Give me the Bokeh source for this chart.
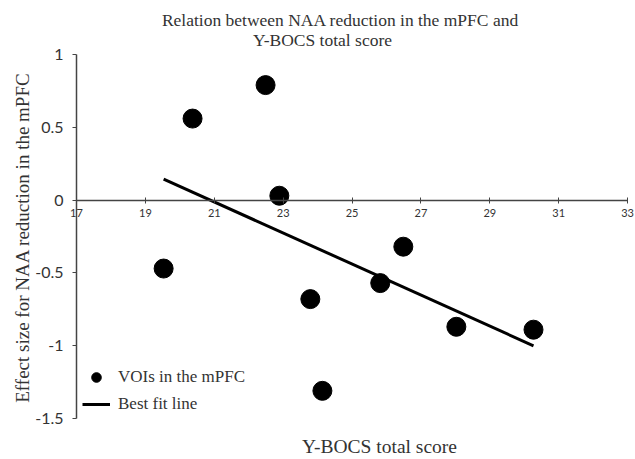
import math
import numpy as np
from bokeh.plotting import figure
from bokeh.models import FixedTicker, Label, Legend, LegendItem
from bokeh.embed import file_html
from bokeh.resources import INLINE

# Data
ybocs = [19.53, 20.37, 22.49, 22.89, 23.79, 24.14, 25.82, 26.49, 28.03, 30.27]
naa_effect = [-0.47, 0.56, 0.79, 0.03, -0.68, -1.31, -0.57, -0.32, -0.87, -0.89]
x_ticks = [17, 19, 21, 23, 25, 27, 29, 31, 33]
y_ticks = [1, 0.5, 0, -0.5, -1, -1.5]
y_tick_labels = ["1", "0.5", "0", "-0.5", "-1", "-1.5"]
title_lines = ["Relation between NAA reduction in the mPFC and", "Y-BOCS total score"]
x_label = "Y-BOCS total score"
y_label = "Effect size for NAA reduction in the mPFC"
legend_labels = ["VOIs in the mPFC", "Best fit line"]

# best fit line (least squares)
slope, intercept = np.polyfit(ybocs, naa_effect, 1)
fit_x = [min(ybocs), max(ybocs)]
fit_y = [slope * v + intercept for v in fit_x]

SERIF = "Liberation Serif"
SANS = "Lato"
TXT = "#333333"
AX = "#444444"

# frame covers the whole canvas; axes sit at fixed locations inside it
p = figure(width=635, height=459, x_range=(14.793, 33.232), y_range=(-1.7816, 1.3709),
           output_backend="svg", toolbar_location=None,
           min_border_left=0, min_border_right=0, min_border_top=0,
           min_border_bottom=0)
p.outline_line_color = None
p.xgrid.visible = False
p.ygrid.visible = False

pts = p.scatter(ybocs, naa_effect, size=19, color="black")
ln = p.line(fit_x, fit_y, line_width=3, color="black")

xa = p.xaxis[0]
xa.fixed_location = 0
xa.bounds = (x_ticks[0], x_ticks[-1])
xa.ticker = FixedTicker(ticks=x_ticks)
xa.axis_line_color = AX
xa.axis_line_width = 1.5
xa.major_tick_line_color = AX
xa.major_tick_in = 3
xa.major_tick_out = 3
xa.minor_tick_line_color = None
xa.major_label_standoff = 6
xa.major_label_text_font = SANS
xa.major_label_text_font_size = "11px"
xa.major_label_text_color = TXT

ya = p.yaxis[0]
ya.fixed_location = x_ticks[0]
ya.bounds = (y_ticks[-1], y_ticks[0])
ya.ticker = FixedTicker(ticks=y_ticks)
ya.major_label_overrides = {t: l for t, l in zip(y_ticks, y_tick_labels)}
ya.axis_line_color = AX
ya.axis_line_width = 1.5
ya.major_tick_line_color = AX
ya.major_tick_in = 0
ya.major_tick_out = 4
ya.minor_tick_line_color = None
ya.major_label_standoff = 9
ya.major_label_text_font = SANS
ya.major_label_text_font_size = "16px"
ya.major_label_text_color = TXT

# title lines, axis titles
p.add_layout(Label(x=24.666, y=1.2404, text=title_lines[0], text_align="center",
                   text_baseline="middle", text_font=SERIF,
                   text_font_size="17.5px", text_color=TXT))
p.add_layout(Label(x=24.143, y=1.103, text=title_lines[1], text_align="center",
                   text_baseline="middle", text_font=SERIF,
                   text_font_size="17.5px", text_color=TXT))
p.add_layout(Label(x=25.80, y=-1.692, text=x_label, text_align="center",
                   text_baseline="middle", text_font=SERIF,
                   text_font_size="19.5px", text_color=TXT))
p.add_layout(Label(x=15.432, y=-0.257, text=y_label, text_align="center",
                   text_baseline="middle", angle=math.pi / 2, text_font=SERIF,
                   text_font_size="19px", text_color=TXT))

legend = Legend(items=[LegendItem(label=legend_labels[0], renderers=[pts]),
                       LegendItem(label=legend_labels[1], renderers=[ln])],
                location=(82, 43), glyph_width=28, glyph_height=24, spacing=3,
                padding=0, margin=0, label_standoff=8,
                label_text_font=SERIF, label_text_font_size="17px",
                label_text_color=TXT, label_height=24,
                border_line_alpha=0, background_fill_alpha=0)
p.add_layout(legend, "center")

open("out.html", "w").write(file_html(p, INLINE))
